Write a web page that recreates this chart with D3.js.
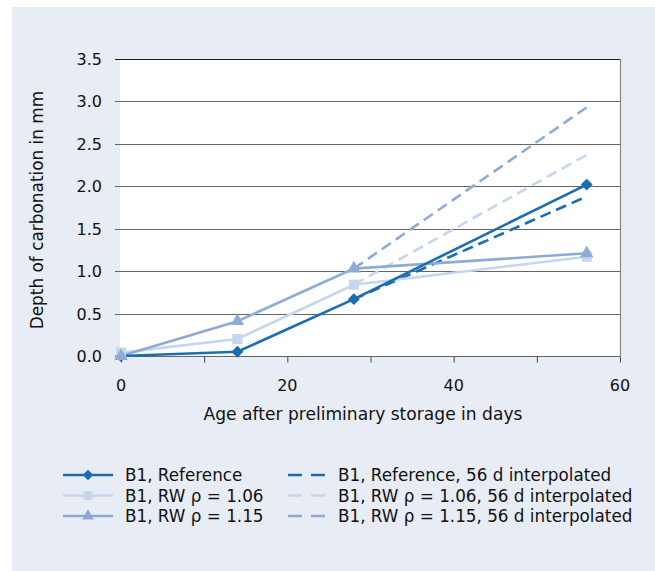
<!DOCTYPE html>
<html><head><meta charset="utf-8">
<script src="https://cdn.jsdelivr.net/npm/d3@7"></script>
<style>body{margin:0;background:#fff}svg{display:block}text{font-family:"DejaVu Sans",sans-serif;fill:#111}</style>
</head><body>
<svg id="c" width="655" height="571"></svg>
<script>
const days = [0, 14, 28, 56];
const refValues = [0.0, 0.05, 0.67, 2.02];
const rw106Values = [0.04, 0.20, 0.84, 1.17];
const rw115Values = [0.0, 0.41, 1.03, 1.21];
const interpDays = [28, 56];
const refInterp = [0.67, 1.88];
const rw106Interp = [0.84, 2.37];
const rw115Interp = [1.03, 2.93];
const yTicks = [0, 0.5, 1.0, 1.5, 2.0, 2.5, 3.0, 3.5];
const xTicks = [0, 10, 20, 30, 40, 50, 60];
const xLabels = [0, 20, 40, 60];
const solidNames = ["B1, Reference", "B1, RW ρ = 1.06", "B1, RW ρ = 1.15"];
const dashNames = ["B1, Reference, 56 d interpolated", "B1, RW ρ = 1.06, 56 d interpolated", "B1, RW ρ = 1.15, 56 d interpolated"];

const colors = ["#1a6db5", "#c6d6ec", "#8cacd6"];
const shapes = [d3.symbolDiamond2, d3.symbolSquare2, d3.symbolTriangle2];

const svg = d3.select("#c");
svg.append("rect").attr("x",12).attr("y",7).attr("width",643).attr("height",564).attr("fill","#e8ecf5");

const x = d3.scaleLinear().domain([0,60]).range([121,620]);
const y = d3.scaleLinear().domain([0,3.5]).range([356,59]);

svg.append("rect").attr("x",120).attr("y",y(3.5)).attr("width",500).attr("height",y(0)-y(3.5)).attr("fill","#fff");

// gridlines
svg.append("g").selectAll("line").data(yTicks.filter(d=>d>0)).join("line")
  .attr("x1",115).attr("x2",620).attr("y1",d=>Math.round(y(d))+0.5).attr("y2",d=>Math.round(y(d))+0.5)
  .attr("stroke",d=>d===3.5?"#222":"#666").attr("stroke-width",1.2);
// right border
svg.append("line").attr("x1",620.5).attr("x2",620.5).attr("y1",y(3.5)).attr("y2",y(0)).attr("stroke","#888").attr("stroke-width",1.2);

// x axis
const xa = svg.append("g").attr("transform",`translate(0,${Math.round(y(0))+0.5})`)
  .call(d3.axisBottom(x).tickValues(xTicks).tickSize(6).tickFormat(""));
xa.select(".domain").attr("stroke","#666").attr("stroke-width",1.2).attr("d",`M115,0H620`);
xa.selectAll(".tick line").attr("stroke","#444");

svg.append("g").selectAll("text").data(xLabels).join("text")
  .attr("x",d=>x(d)).attr("y",391).attr("text-anchor","middle").attr("font-size",16).text(d=>d);
svg.append("g").selectAll("text").data(yTicks).join("text")
  .attr("x",102).attr("y",d=>y(d)+6).attr("text-anchor","end").attr("font-size",16).text(d=>d.toFixed(1));

svg.append("text").attr("x",363).attr("y",420).attr("text-anchor","middle").attr("font-size",17.1).text("Age after preliminary storage in days");
svg.append("text").attr("transform","translate(43,210) rotate(-90)").attr("text-anchor","middle").attr("font-size",16.9).text("Depth of carbonation in mm");

const line = d3.line().x(d=>x(d[0])).y(d=>y(d[1]));
const series = [refValues, rw106Values, rw115Values];
const interps = [refInterp, rw106Interp, rw115Interp];

// dashed interpolated
interps.forEach((vals,i)=>{
  svg.append("path").datum(interpDays.map((d,j)=>[d,vals[j]])).attr("d",line)
    .attr("fill","none").attr("stroke",colors[i]).attr("stroke-width",2.6).attr("stroke-dasharray","11,6");
});
// solid series
[1,2,0].forEach(i=>{
  const pts = days.map((d,j)=>[d,series[i][j]]);
  svg.append("path").datum(pts).attr("d",line).attr("fill","none").attr("stroke",colors[i]).attr("stroke-width",2.6);
});
[0,1,2].forEach(i=>{
  const pts = days.map((d,j)=>[d,series[i][j]]);
  svg.append("g").selectAll("path").data(pts).join("path")
    .attr("transform",d=>`translate(${x(d[0])},${y(d[1])})`)
    .attr("d",d3.symbol().type(shapes[i]).size(i===0?90:130)).attr("fill",colors[i]);
});

// legend
const rows = [475, 495.5, 516];
rows.forEach((ry,i)=>{
  svg.append("line").attr("x1",63).attr("x2",113).attr("y1",ry).attr("y2",ry).attr("stroke",colors[i]).attr("stroke-width",2.6);
  svg.append("path").attr("transform",`translate(88,${ry})`).attr("d",d3.symbol().type(shapes[i]).size(i===0?70:100)).attr("fill",colors[i]);
  svg.append("text").attr("x",125).attr("y",ry+6).attr("font-size",16.8).text(solidNames[i]);
  svg.append("line").attr("x1",288).attr("x2",325).attr("y1",ry).attr("y2",ry).attr("stroke",colors[i]).attr("stroke-width",2.6).attr("stroke-dasharray","14,9");
  svg.append("text").attr("x",338).attr("y",ry+6).attr("font-size",16.8).text(dashNames[i]);
});
</script>
</body></html>
